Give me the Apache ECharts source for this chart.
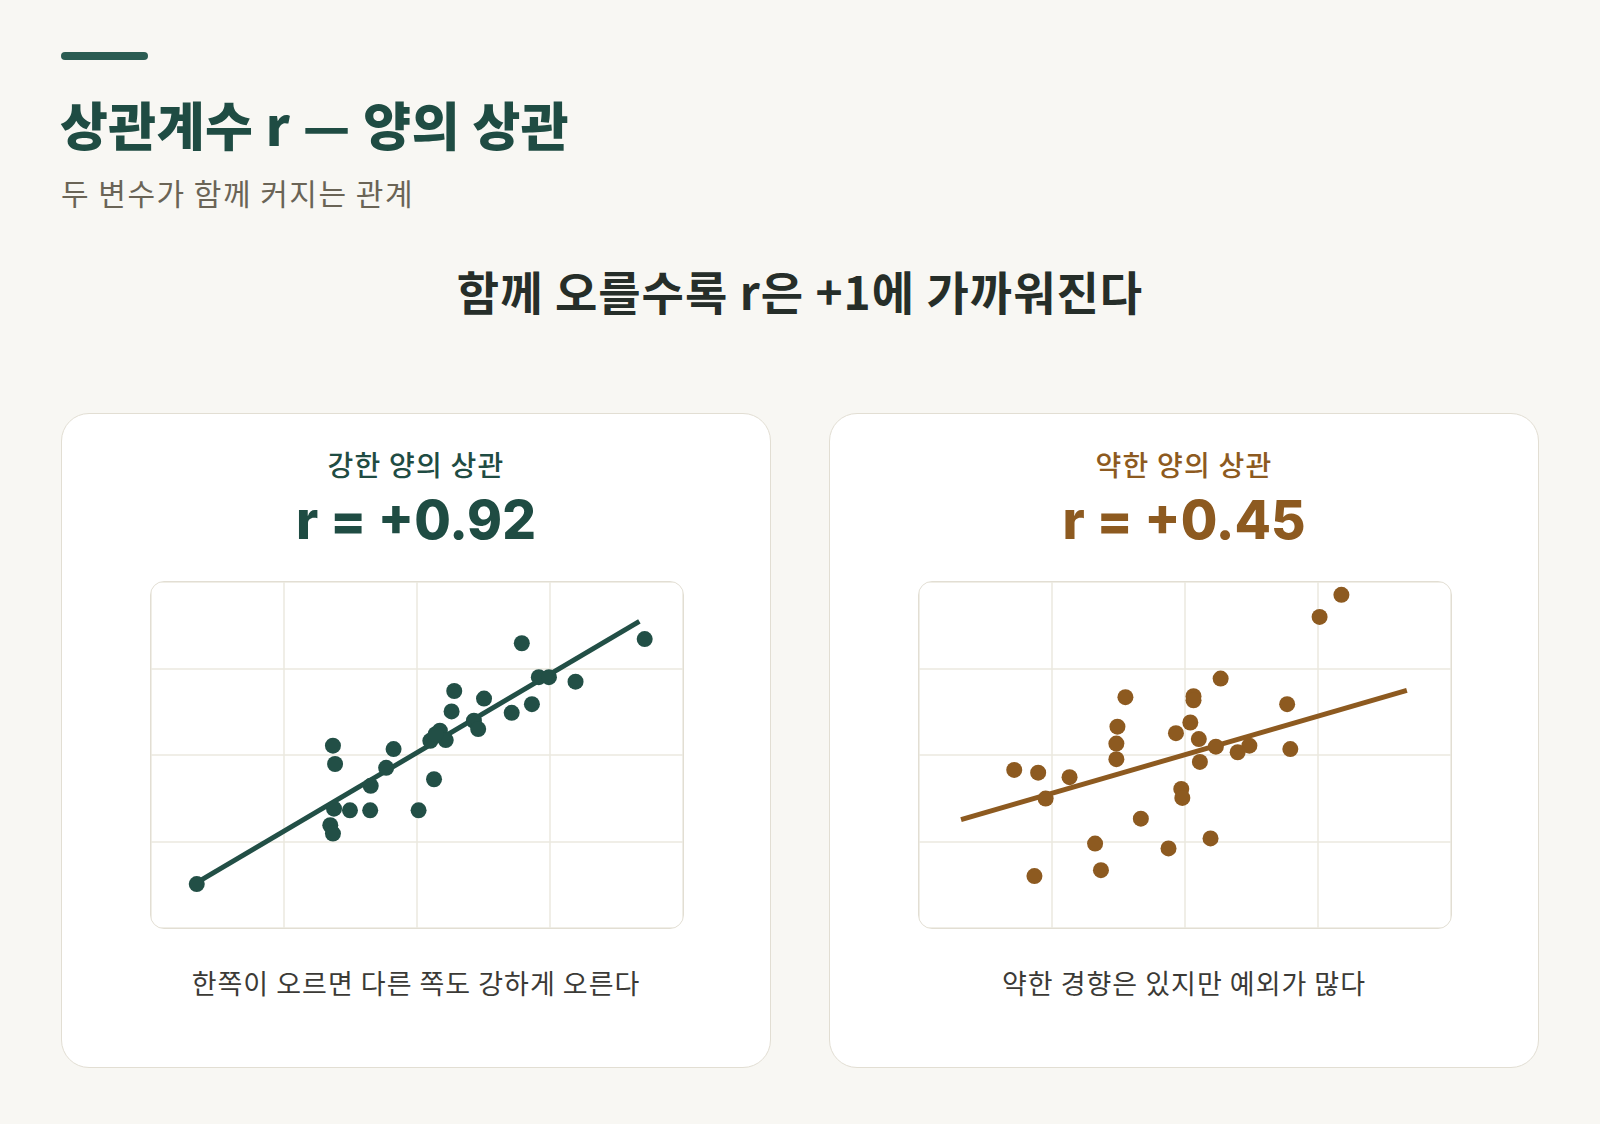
<!DOCTYPE html>
<html>
<head>
<meta charset="utf-8">
<script src="https://cdn.jsdelivr.net/npm/echarts@6/dist/echarts.min.js"></script>
<style>
  html, body { margin: 0; padding: 0; }
  body { width: 1600px; height: 1124px; background: #f8f7f3; position: relative; overflow: hidden;
         font-family: "Noto Sans CJK KR", "Noto Sans", sans-serif; }
  .bar { position: absolute; left: 61px; top: 52px; width: 87px; height: 8px; border-radius: 4px; background: #2b5c52; }
  .title { position: absolute; left: 60px; top: 89px; font-size: 52px; font-weight: 800; color: #1f4c43; line-height: 70px; letter-spacing: 0.5px; }
  .sub { position: absolute; left: 61px; top: 172px; font-size: 30px; color: #6a6456; line-height: 40px; letter-spacing: 1.5px; }
  .head { position: absolute; left: 0; width: 1600px; top: 258px; text-align: center; font-size: 46px; font-weight: 700; color: #262e29; line-height: 64px; letter-spacing: 1px; }
  .card { position: absolute; top: 413px; width: 708px; height: 653px; background: #fff; border: 1.5px solid #e2ded3; border-radius: 28px; }
  .ctitle { position: absolute; left: 0; width: 100%; top: 30px; text-align: center; font-size: 28px; font-weight: 500; line-height: 40px; letter-spacing: 1.2px; }
  .rval { position: absolute; left: 0; width: 100%; top: 74px; text-align: center; font-family: Inter, "Noto Sans", sans-serif; font-size: 53px; font-weight: 800; line-height: 64px; }
  .plot { position: absolute; left: 88px; top: 167px; width: 532px; height: 346px; border: 1.5px solid #e2ded3; border-radius: 14px; overflow: hidden; background: #fff; }
  .cap { position: absolute; left: 0; width: 100%; top: 549px; text-align: center; font-size: 27px; color: #3b3a36; line-height: 40px; letter-spacing: 1px; }
  .green { color: #1f4c43; }
  .brown { color: #8d5a20; }
</style>
</head>
<body>
<div class="bar"></div>
<div class="title">상관계수 r — 양의 상관</div>
<div class="sub">두 변수가 함께 커지는 관계</div>
<div class="head">함께 오를수록 r은 +1에 가까워진다</div>

<div class="card" style="left:61px">
  <div class="ctitle green">강한 양의 상관</div>
  <div class="rval green">r = +0.92</div>
  <div class="plot" id="strong"></div>
  <div class="cap">한쪽이 오르면 다른 쪽도 강하게 오른다</div>
</div>

<div class="card" style="left:829px">
  <div class="ctitle brown">약한 양의 상관</div>
  <div class="rval brown">r = +0.45</div>
  <div class="plot" id="weak"></div>
  <div class="cap">약한 경향은 있지만 예외가 많다</div>
</div>

<script>
// 강한 양의 상관 (r = +0.92)
var strongX = [8.6, 92.8, 69.7, 72.9, 74.8, 79.8, 57.0, 62.6, 56.5, 71.6, 67.8, 60.7, 61.5, 54.3, 55.4,
               52.5, 53.5, 34.2, 34.6, 45.6, 44.2, 41.3, 53.2, 50.3, 41.2, 37.4, 33.7, 34.2, 34.4];
var strongY = [12.7, 83.5, 82.3, 72.5, 72.5, 71.2, 68.5, 66.3, 62.6, 64.7, 62.2, 59.9, 57.5, 57.0, 54.3,
               54.1, 56.0, 52.7, 47.4, 51.7, 46.3, 41.1, 43.0, 34.0, 34.0, 34.0, 29.7, 27.3, 34.5];
var strongTrend = [[8.6, 13.1], [91.8, 88.6]];

// 약한 양의 상관 (r = +0.45)
var weakX = [79.4, 75.3, 56.7, 38.8, 51.6, 51.6, 69.2, 37.3, 51.0, 48.3, 52.6, 37.1, 55.8, 62.1, 59.9,
             69.8, 37.1, 52.8, 17.9, 22.4, 28.3, 23.8, 49.3, 49.5, 41.7, 33.1, 54.8, 46.9, 34.2, 21.7];
var weakY = [96.3, 89.9, 72.1, 66.7, 67.0, 65.8, 64.7, 58.2, 59.4, 56.3, 54.6, 53.3, 52.4, 52.7, 50.8,
             51.7, 48.8, 48.0, 45.7, 44.9, 43.6, 37.4, 40.2, 37.6, 31.6, 24.4, 25.9, 23.0, 16.7, 15.0];
var weakTrend = [[7.9, 31.3], [91.7, 68.7]];

var axisMin = 0, axisMax = 100, axisStep = 25;

function pairs(xs, ys) {
    return xs.map(function (x, i) { return [x, ys[i]]; });
}

function makeChart(id, xs, ys, trend, color) {
    var chart = echarts.init(document.getElementById(id));
    var ax = {
        type: 'value', min: axisMin, max: axisMax, interval: axisStep,
        axisLine: { show: false }, axisTick: { show: false }, axisLabel: { show: false },
        splitLine: { lineStyle: { color: '#ebe8df', width: 1.5 } }
    };
    chart.setOption({
        animation: false,
        grid: { left: 0, right: 0, top: 0, bottom: 0 },
        xAxis: ax,
        yAxis: ax,
        series: [
            {
                type: 'line',
                data: trend,
                symbol: 'none',
                lineStyle: { color: color, width: 5 },
                z: 2
            },
            {
                type: 'scatter',
                data: pairs(xs, ys),
                symbolSize: 16,
                itemStyle: { color: color, opacity: 1 },
                z: 3
            }
        ]
    });
}

makeChart('strong', strongX, strongY, strongTrend, '#224f46');
makeChart('weak', weakX, weakY, weakTrend, '#8d5a20');
</script>
</body>
</html>
